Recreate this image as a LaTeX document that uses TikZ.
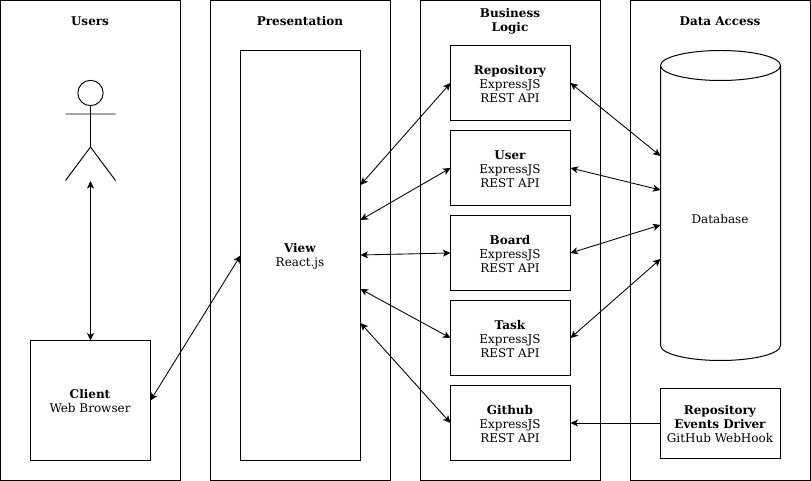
\documentclass[tikz,border=0pt]{standalone}
\usepackage{fontspec}
\setmainfont{DejaVu Serif}
\usetikzlibrary{arrows.meta,shapes.geometric}
\tikzset{
  x=0.75pt,y=-0.75pt,
  every node/.style={font=\fontsize{9pt}{10.5pt}\selectfont,text=black,inner sep=0pt,outer sep=0pt,align=center},
  lane/.style={draw,line width=0.75pt,anchor=north west,minimum width=135pt,minimum height=360pt},
  box/.style={draw,line width=0.75pt,minimum width=90pt,minimum height=56.25pt},
  link/.style={line width=0.65pt,{Stealth[length=5.6pt,width=5.2pt,inset=1.4pt]}-{Stealth[length=5.6pt,width=5.2pt,inset=1.4pt]}},
  oneway/.style={line width=0.75pt,-{Stealth[length=5.6pt,width=5.2pt,inset=1.4pt]}},
  figure/.style={line width=0.7pt},
  title/.style={font=\fontsize{9pt}{10.5pt}\selectfont\bfseries}
}
\begin{document}
\begin{tikzpicture}
\useasboundingbox (0,0) rectangle (811,481);
% lanes
\node[lane] (users) at (0.5,0.5) {};
\node[lane] (pres) at (210.5,0.5) {};
\node[lane] (biz) at (420.5,0.5) {};
\node[lane] (data) at (630.5,0.5) {};
\node[title] (tusers) at (90,20.8) {Users};
\node[title] (tpres) at (300,20.8) {Presentation};
\node[title] (tbiz) at (510,20.8) {Business\\Logic};
\node[title] (tdata) at (720,20.8) {Data Access};
% actor
\node[draw,circle,line width=0.7pt,minimum size=19pt] (head) at (90.5,93) {};
\coordinate (hip) at (90.5,147);
\coordinate (armL) at (65.5,114);
\coordinate (armR) at (115.5,114);
\coordinate (footL) at (65.5,180.5);
\coordinate (footR) at (115.5,180.5);
\coordinate (actorfoot) at (90.5,181);
\draw[figure] (head.south) -- (hip) (armL) -- (armR) (footL) -- (hip) -- (footR);
% boxes
\node[box,minimum height=90pt] (client) at (90.5,400.5) {};
\node[box,minimum height=307.5pt] (view) at (300.5,255.5) {};
\node[box] (repo) at (510.5,83) {};
\node[box] (user) at (510.5,168) {};
\node[box] (board) at (510.5,253) {};
\node[box] (task) at (510.5,338) {};
\node[box] (github) at (510.5,423) {};
\node[box,minimum height=52.5pt] (driver) at (720.5,423) {};
\node (lclient) at (90,400.8) {\textbf{Client}\\Web Browser};
\node (lview) at (300,255.8) {\textbf{View}\\React.js};
\node (lrepo) at (510,83.8) {\textbf{Repository}\\ExpressJS\\REST API};
\node (luser) at (510,168.8) {\textbf{User}\\ExpressJS\\REST API};
\node (lboard) at (510,253.8) {\textbf{Board}\\ExpressJS\\REST API};
\node (ltask) at (510,338.8) {\textbf{Task}\\ExpressJS\\REST API};
\node (lgithub) at (510,423.8) {\textbf{Github}\\ExpressJS\\REST API};
\node (ldriver) at (720,423.8) {\textbf{Repository}\\\textbf{Events Driver}\\GitHub WebHook};
% database
\path[draw,line width=0.75pt] (660.5,65.5) -- (660.5,345.5) arc[start angle=180,end angle=360,x radius=60,y radius=-15] -- (780.5,65.5);
\path[draw,line width=0.75pt] (720.5,65.5) ellipse[x radius=60,y radius=15];
\node (dblabel) at (720,218.8) {Database};
% anchor points on the view and database sides
\coordinate (v1) at (360.5,185);
\coordinate (v2) at (360.5,220);
\coordinate (v3) at (360.5,255);
\coordinate (v4) at (360.5,289);
\coordinate (v5) at (360.5,323);
\coordinate (d1) at (660.5,156);
\coordinate (d2) at (660.5,190);
\coordinate (d3) at (660.5,225);
\coordinate (d4) at (660.5,259);
% connectors
\draw[link] (actorfoot) -- (client.north);
\draw[link] (client.east) -- (view.west);
\draw[link] (v1) -- (repo.west);
\draw[link] (v2) -- (user.west);
\draw[link] (v3) -- (board.west);
\draw[link] (v4) -- (task.west);
\draw[link] (v5) -- (github.west);
\draw[link] (repo.east) -- (d1);
\draw[link] (user.east) -- (d2);
\draw[link] (board.east) -- (d3);
\draw[link] (task.east) -- (d4);
\draw[oneway] (driver.west) -- (github.east);
\end{tikzpicture}
\end{document}
